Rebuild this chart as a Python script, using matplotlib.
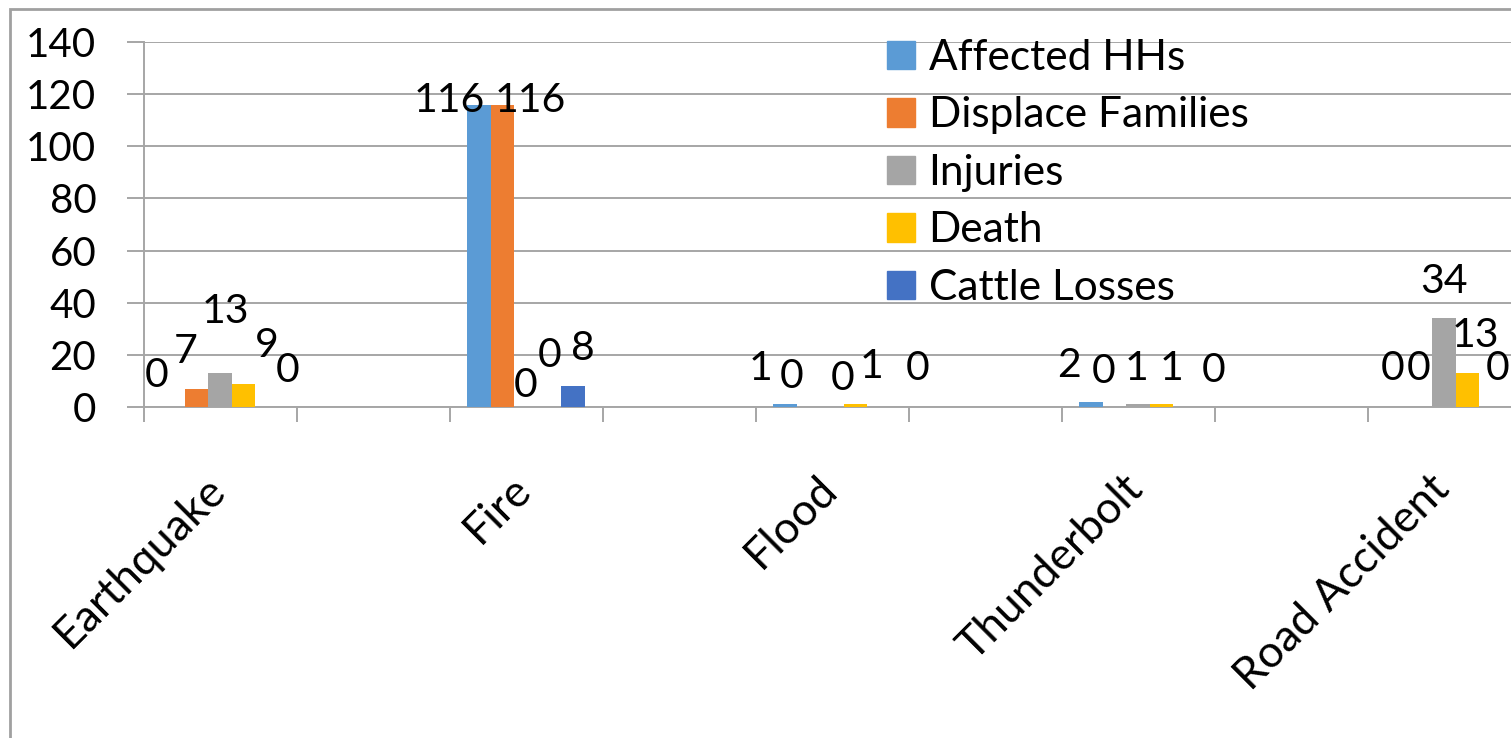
import matplotlib.pyplot as plt
from matplotlib.patches import Rectangle, Patch
from matplotlib.transforms import ScaledTranslation
import numpy as np

plt.rcParams['font.family'] = ['Lato', 'DejaVu Sans']

# data
categories = ["Earthquake", "Fire", "Flood", "Thunderbolt", "Road Accident"]
series_names = ["Affected HHs", "Displace Families", "Injuries", "Death", "Cattle Losses"]
affected_hhs = [0, 116, 1, 2, 0]
displace_families = [7, 116, 0, 0, 0]
injuries = [13, 0, 0, 1, 34]
death = [9, 0, 1, 1, 13]
cattle_losses = [0, 8, 0, 0, 0]
values = [affected_hhs, displace_families, injuries, death, cattle_losses]
colors = ['#5B9BD5', '#ED7D31', '#A5A5A5', '#FFC000', '#4472C4']

# label nudges (pixels) to mimic Excel's label placement
label_nudge = [
    [(-16, 20), (-30, -7), (-24, 24), (-22, 25), (-4, 27)],
    [(-11, 26), (28, -7), (-17, 19), (-11, 24), (-2, 27)],
    [(5, 50), (0, 10), (11, 17), (-1, 24), (0, 25)],
    [(23, 27), (0, 40), (16, 26), (10, 24), (8, 26)],
    [(21, 25), (10, 26), (39, 27), (29, 25), (7, 27)],
]

W, H = 1511, 738
fig = plt.figure(figsize=(W / 100, H / 100), dpi=100)
# axes is wider than the picture: the original chart is cropped on the right
ax = fig.add_axes([143.5 / W, 1 - 407 / H, 1530 / W, 365 / H])

gray = '#A6A6A6'
fs = 29.5
x = np.arange(len(categories)) * 2  # blank category between each real one
bw = 23.5 / 153

for i, (name, vals, col) in enumerate(zip(series_names, values, colors)):
    xs = x + (i - 2) * bw
    ax.bar(xs, vals, width=bw, color=col, label=name, zorder=3)
    for j in range(len(categories)):
        dx, dy = label_nudge[i][j]
        ax.annotate(str(vals[j]), (xs[j], vals[j]), xytext=(dx, dy),
                    textcoords='offset pixels', ha='center', va='baseline',
                    fontsize=fs, color='black', zorder=5, annotation_clip=False)

ax.set_xlim(-0.5, 9.5)
ax.set_ylim(0, 140)
ax.set_yticks(np.arange(0, 141, 20))
ax.yaxis.grid(True, color=gray, lw=1.4, zorder=0)
ax.tick_params(axis='y', length=12, width=1.4, color=gray, labelsize=29, pad=22)

ax.set_xticks(x)
ax.set_xticklabels(categories, rotation=45, ha='right', rotation_mode='anchor')
ax.set_xticks(np.arange(-0.5, 10, 1), minor=True)
ax.tick_params(axis='x', which='major', length=0, labelsize=32, pad=44)
ax.tick_params(axis='x', which='minor', length=11, width=1.4, color=gray)
shift = ScaledTranslation(-0.16, 0, fig.dpi_scale_trans)
for lbl in ax.get_xticklabels():
    lbl.set_transform(lbl.get_transform() + shift)

for s in ['top', 'right']:
    ax.spines[s].set_visible(False)
for s in ['left', 'bottom']:
    ax.spines[s].set_color(gray)
    ax.spines[s].set_linewidth(1.4)

handles = [Patch(color=c) for c in colors]
fig.legend(handles, series_names, loc='upper left',
           bbox_to_anchor=(887 / W, 1 - 39 / H), bbox_transform=fig.transFigure,
           frameon=False, fontsize=30.5, borderpad=0, borderaxespad=0,
           handlelength=0.65, handleheight=0.65, handletextpad=0.33,
           labelspacing=0.46)

# chart area border
fig.patches.append(Rectangle((10 / W, -0.1), 1.2, 1 - 9 / H + 0.1,
                             transform=fig.transFigure, fill=False,
                             edgecolor='#A0A0A0', lw=2))

fig.savefig('out.png', dpi=100)
